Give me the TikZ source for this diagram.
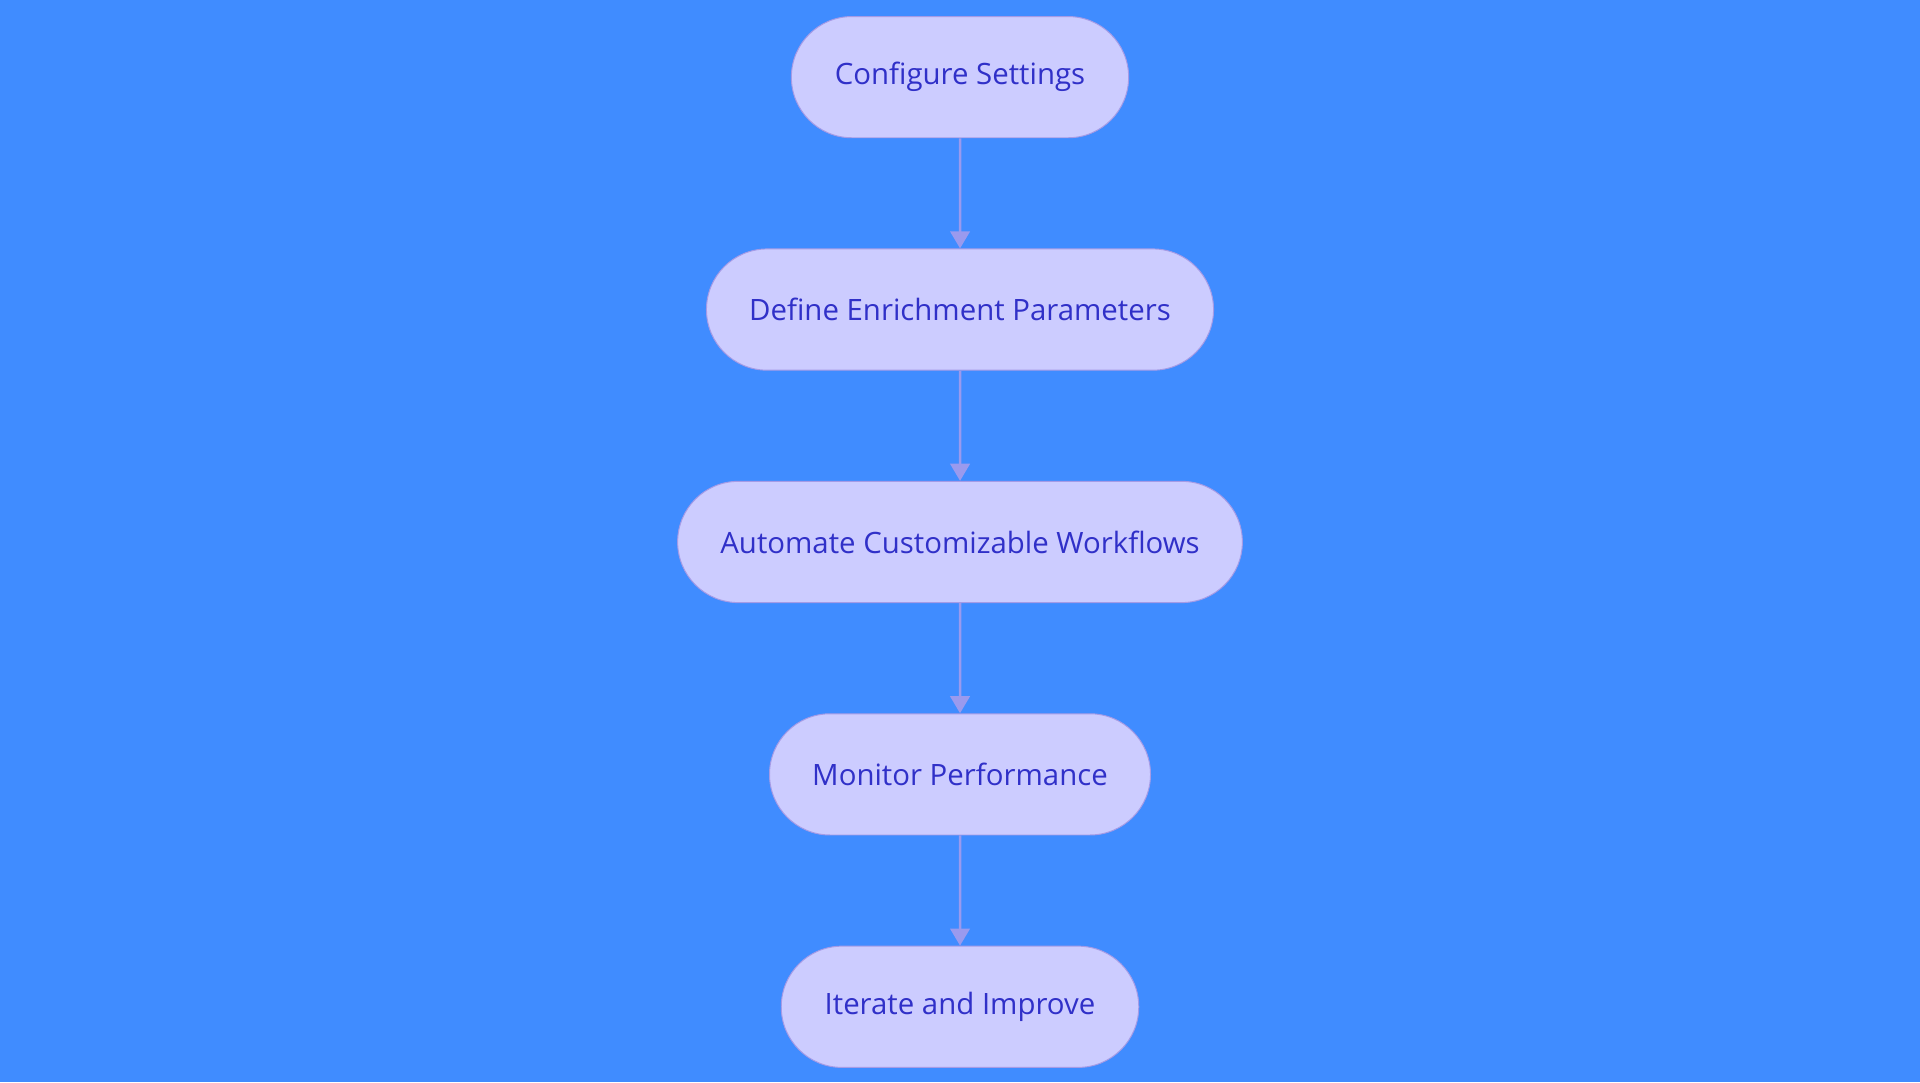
\documentclass[tikz,border=0pt]{standalone}
\usepackage{fontspec}
\setmainfont{Open Sans}
\usetikzlibrary{arrows.meta,positioning,shapes.misc}
\definecolor{bgblue}{HTML}{408CFF}
\definecolor{boxfill}{HTML}{CCCCFF}
\definecolor{boxline}{HTML}{A59BE6}
\definecolor{txtblue}{HTML}{3030C8}
\definecolor{arrowcol}{HTML}{9A9AEE}

\begin{document}
\begin{tikzpicture}[->,>={Triangle[length=7pt,width=8pt]},node distance=45pt,
  step node/.style={rounded rectangle,fill=boxfill,draw=boxline,thin,
    minimum height=49.5pt,inner xsep=17pt,text=txtblue,font=\fontsize{12}{14}\selectfont}]

  \fill[bgblue] (0,0) rectangle (784pt,-442pt);
  \useasboundingbox (0,0) rectangle (784pt,-442pt);

  \node[step node] (1) at (392pt,-31.5pt) {Configure Settings};
  \node[step node] (2) [below=of 1] {Define Enrichment Parameters};
  \node[step node] (3) [below=of 2] {Automate Customizable Workflows};
  \node[step node] (4) [below=of 3] {Monitor Performance};
  \node[step node] (5) [below=of 4] {Iterate and Improve};

  \path[draw=arrowcol,fill=arrowcol,line width=1pt]
    (1) edge (2)
    (2) edge (3)
    (3) edge (4)
    (4) edge (5)
    ;

\end{tikzpicture}
\end{document}
